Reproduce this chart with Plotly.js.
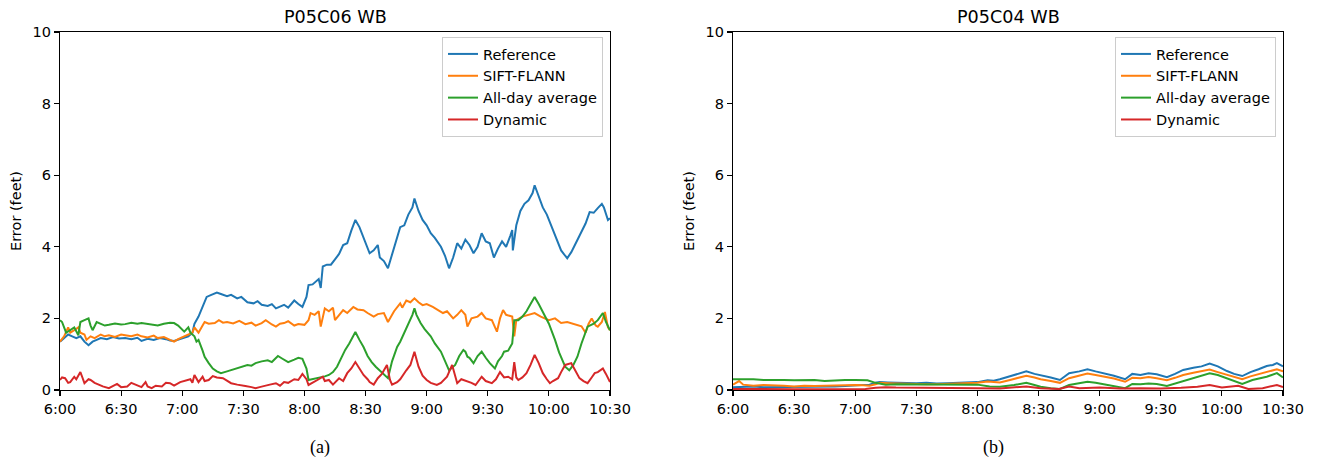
<!DOCTYPE html>
<html>
<head>
<meta charset="utf-8">
<script src="https://cdn.plot.ly/plotly-3.0.1.min.js"></script>
<style>html,body{margin:0;padding:0;background:#fff;}#chart{width:1317px;height:463px;}</style>
</head>
<body>
<div id="chart"></div>
<script>
// x values: minutes after 6:00
const tickVals = [0, 30, 60, 90, 120, 150, 180, 210, 240, 270];
const tickText = ["6:00", "6:30", "7:00", "7:30", "8:00", "8:30", "9:00", "9:30", "10:00", "10:30"];
const seriesNames = ["Reference", "SIFT-FLANN", "All-day average", "Dynamic"];
const panelTitles = ["P05C06 WB", "P05C04 WB"];
const panelCaptions = ["(a)", "(b)"];

// ---- Panel (a): P05C06 WB ----
const aRefT = [0,2,4,6,8,10,12,14,16,18,20,23,26,29,32,35,38,40,43,46,49,52,54,56,59,61,63,65,66,68,70,72,74,77,79,82,84,87,89,92,95,97,99,102,104,106,108,110,112,114,115,117,119,121,122,124,125,127,128,129,131,133,135,137,139,141,143,145,147,149,151,152,154,156,157,159,161,163,165,167,169,171,173,174,176,178,180,182,184,187,189,191,193,195,197,199,201,203,205,207,209,211,213,215,217,219,221,222,222.3,224,226,228,230,232,233,235,237,239,242,244,246,248,249,251,254,256,258,260,262,264,266,267,269,270];
const aRefV = [1.35,1.45,1.55,1.5,1.45,1.5,1.35,1.25,1.35,1.4,1.45,1.42,1.48,1.44,1.45,1.42,1.46,1.37,1.43,1.4,1.45,1.42,1.38,1.37,1.42,1.45,1.5,1.6,1.85,2.05,2.3,2.6,2.65,2.72,2.68,2.62,2.66,2.56,2.6,2.45,2.42,2.48,2.38,2.35,2.4,2.28,2.33,2.38,2.3,2.45,2.5,2.4,2.32,2.6,2.93,2.95,3.0,3.1,2.85,3.45,3.5,3.5,3.65,3.8,4.05,4.1,4.45,4.75,4.55,4.27,4.0,3.82,3.9,4.05,3.7,3.6,3.4,3.8,4.2,4.55,4.6,4.9,5.1,5.35,5.0,4.75,4.6,4.38,4.25,4.0,3.75,3.4,3.7,4.1,3.95,4.2,4.05,3.82,4.0,4.38,4.15,4.1,3.7,3.95,4.15,4.0,4.3,4.47,3.9,4.6,5.0,5.2,5.3,5.5,5.72,5.4,5.1,4.9,4.47,4.2,3.9,3.75,3.68,3.85,4.2,4.4,4.65,4.97,4.95,5.08,5.2,5.1,4.75,4.8];

const aSiftT = [0,2,4,5,7,9,10,12,13,15,17,20,22,24,27,30,32,35,38,40,43,46,48,51,54,56,58,61,63,65,66,68,70,71,73,76,78,80,82,85,88,91,94,96,99,101,104,106,108,110,112,115,117,120,122,123,125,127,128,130,132,134,135,137,139,141,144,146,149,151,154,156,159,161,162,164,167,168,170,172,174,176,178,180,183,185,188,190,193,195,197,199,200,202,205,207,209,212,214.5,216,217.5,219,222,223,224,227,230,233,236,240,243,246,249,253,256,258,259.5,261,263,264,266,267.5,269,270];
const aSiftV = [1.35,1.5,1.75,1.6,1.67,1.75,1.6,1.55,1.4,1.5,1.45,1.55,1.5,1.53,1.48,1.55,1.53,1.5,1.55,1.5,1.47,1.52,1.45,1.48,1.4,1.35,1.42,1.5,1.55,1.6,1.75,1.6,1.8,1.9,1.85,1.87,1.95,1.88,1.9,1.86,1.93,1.84,1.88,1.8,1.87,1.95,1.83,1.77,1.85,1.87,1.92,1.8,1.84,1.82,1.95,2.15,2.1,2.2,1.77,2.28,2.2,2.3,1.95,2.1,2.23,2.15,2.32,2.25,2.23,2.15,2.05,2.12,2.15,1.9,2.0,2.2,2.42,2.3,2.5,2.45,2.56,2.45,2.37,2.4,2.32,2.25,2.15,2.2,2.0,2.1,2.23,2.1,1.77,2.0,2.05,2.15,2.0,1.95,1.63,2.0,2.23,2.1,2.05,1.5,1.95,2.05,2.1,2.15,2.05,1.95,2.0,1.87,1.9,1.82,1.78,1.6,1.85,2.0,1.8,1.77,1.9,2.18,1.75,1.67];

const aAvgT = [0,1,3,5,7,9,10,12,14,15,16,18,20,22,24,27,30,32,35,38,40,43,46,48,51,54,56,58,61,63,64,66,67,68,70,71,73,75,77,79,82,85,87,89,92,94,96,99,102,104,107,109,112,115,117,119,121,122,124,127,130,132,134,136,138,140,142,145,147,149,151,153,155,157,159,161,163,165.5,167,169,171,173,174,175,177,179,182,184,187,189,191,192,194,196,198,199,200,201,203,205,207,209,211,213.5,215,217,218,220,222,223,225,227,229,231,233,235,238,240,243,245,248,250,252,254,256,259,262,264,266.5,268,270];
const aAvgV = [1.95,1.9,1.6,1.67,1.75,1.53,1.9,1.95,2.0,1.8,1.67,1.9,1.85,1.8,1.82,1.86,1.83,1.84,1.88,1.85,1.87,1.85,1.82,1.8,1.85,1.88,1.87,1.8,1.63,1.75,1.6,1.5,1.35,1.4,1.1,0.93,0.75,0.6,0.52,0.47,0.52,0.58,0.62,0.65,0.7,0.68,0.75,0.8,0.83,0.78,0.95,0.88,0.78,0.85,0.9,0.87,0.6,0.28,0.3,0.33,0.38,0.42,0.5,0.65,0.9,1.12,1.3,1.62,1.4,1.2,0.95,0.78,0.65,0.55,0.45,0.33,0.8,1.2,1.35,1.6,1.85,2.1,2.28,2.1,1.87,1.7,1.5,1.3,1.07,0.8,0.55,0.6,0.7,0.95,1.12,1.07,0.93,0.9,0.75,0.95,1.07,0.9,0.75,0.6,0.8,0.95,1.07,1.1,1.3,1.95,1.95,2.05,2.2,2.4,2.6,2.4,2.05,1.85,1.4,1.05,0.65,0.55,0.7,0.93,1.3,1.77,1.85,1.95,2.15,1.9,1.67];

const aDynT = [0,1,2.5,4,5,7,8,10,11,12,14,15,17,19,21,24,26,28,30,33,35,38,40,42,43,45,47,50,52,54,56,59,61,64,65,66,68,70,71,73,75,77,80,82,84,87,89,91,94,96,98,101,103,106,108,110,112,115,117,119,121,122,124,125,127,129,130,132,134,137,139,141,143,145,147,149,151,152,154,156,158,160.5,162,163,165.5,167,170,172,174,176,178,180,182,185,187,190,192.5,195,197,200,202,204,207,209,212,214,216,218,220,222,223,224,225,227,229,231,233,235,237,239,240.5,242,244.5,246,248,251,253,255,257,259,261,262.5,264,266.5,268,270];
const aDynV = [0.28,0.35,0.33,0.2,0.22,0.37,0.3,0.5,0.35,0.19,0.3,0.28,0.2,0.14,0.1,0.05,0.1,0.17,0.08,0.1,0.2,0.14,0.08,0.22,0.1,0.05,0.12,0.1,0.2,0.19,0.12,0.22,0.25,0.3,0.2,0.42,0.22,0.37,0.25,0.28,0.39,0.35,0.33,0.25,0.19,0.15,0.12,0.11,0.08,0.05,0.08,0.11,0.15,0.19,0.12,0.22,0.2,0.3,0.28,0.45,0.3,0.14,0.2,0.22,0.3,0.37,0.25,0.28,0.15,0.33,0.25,0.47,0.6,0.78,0.6,0.42,0.3,0.22,0.15,0.33,0.45,0.7,0.28,0.15,0.22,0.3,0.55,0.7,1.07,0.65,0.4,0.28,0.2,0.14,0.2,0.37,0.7,0.19,0.3,0.25,0.2,0.14,0.37,0.25,0.19,0.3,0.5,0.35,0.37,0.3,0.78,0.35,0.28,0.35,0.47,0.7,0.98,0.75,0.47,0.3,0.19,0.25,0.33,0.5,0.7,0.75,0.55,0.33,0.25,0.19,0.35,0.47,0.5,0.6,0.45,0.22];

// ---- Panel (b): P05C04 WB ----
const bRefT = [0,5,10,15,20,25,30,35,40,45,50,55,60,64,67,70,72,76,80,85,90,95,100,105,110,115,120,125,128,131,136,140,144,148,151,156,160.5,163,165,170,174,178,182,187,192.5,196,200,204,208,213,217,221,226,230,234,238,242.5,246,250,254,258,262,265,267,270];
const bRefV = [0.08,0.1,0.1,0.08,0.08,0.1,0.1,0.09,0.09,0.1,0.1,0.11,0.12,0.13,0.15,0.2,0.22,0.21,0.2,0.2,0.19,0.2,0.18,0.19,0.2,0.2,0.22,0.27,0.26,0.3,0.38,0.44,0.52,0.45,0.42,0.35,0.28,0.4,0.47,0.52,0.58,0.52,0.47,0.4,0.3,0.45,0.42,0.47,0.44,0.36,0.45,0.56,0.62,0.66,0.74,0.66,0.53,0.45,0.39,0.5,0.58,0.67,0.7,0.75,0.66];
const bSiftT = [0,3,5,10,15,20,25,30,35,40,45,50,55,60,64,67,70,72,76,80,85,90,95,100,105,110,115,120,125,128,131,136,140,144,148,151,156,160.5,165,170,174,178,182,187,192.5,196,200,204,208,213,217,221,226,230,234,238,242.5,246,250,254,258,262,265,267,270];
const bSiftV = [0.15,0.25,0.15,0.12,0.14,0.14,0.12,0.1,0.12,0.11,0.12,0.12,0.13,0.14,0.13,0.12,0.16,0.2,0.19,0.18,0.17,0.17,0.16,0.16,0.17,0.17,0.18,0.2,0.24,0.22,0.21,0.28,0.34,0.4,0.35,0.3,0.25,0.2,0.33,0.4,0.46,0.42,0.38,0.32,0.23,0.34,0.33,0.36,0.33,0.27,0.34,0.42,0.48,0.52,0.57,0.5,0.42,0.35,0.3,0.38,0.44,0.5,0.55,0.58,0.52];
const bAvgT = [0,5,10,15,20,25,30,35,40,45,50,55,60,66,70,75,80,85,90,95,100,105,110,115,120,126,131,138,144,148,151,156,160.5,165,170,174,178,182,187,192.5,196,200,204,208,213,217,221,228,234,238,242.5,246,248,250,255,262,267,270];
const bAvgV = [0.3,0.31,0.3,0.28,0.29,0.28,0.27,0.28,0.28,0.25,0.27,0.28,0.28,0.27,0.2,0.15,0.16,0.16,0.16,0.15,0.15,0.16,0.16,0.16,0.15,0.1,0.09,0.14,0.2,0.14,0.09,0.05,0.03,0.14,0.18,0.23,0.2,0.16,0.12,0.05,0.17,0.16,0.18,0.17,0.11,0.18,0.26,0.38,0.47,0.42,0.33,0.25,0.2,0.17,0.28,0.37,0.47,0.35];
const bDynT = [0,10,20,30,40,50,60,65,70,75,80,90,100,110,120,131,138,144,151,160,165,170,180,190,200,210,220,228,234,240,248,253,260,267,270];
const bDynV = [0.03,0.02,0.03,0.02,0.02,0.02,0.03,0.03,0.06,0.08,0.07,0.07,0.06,0.06,0.05,0.04,0.07,0.1,0.05,0.03,0.1,0.05,0.07,0.04,0.05,0.04,0.06,0.09,0.14,0.07,0.12,0.03,0.05,0.14,0.08];

const colors = ["#1f77b4", "#ff7f0e", "#2ca02c", "#d62728"];
const panels = [
  {x: [aRefT, aSiftT, aAvgT, aDynT], y: [aRefV, aSiftV, aAvgV, aDynV], xa: "x", ya: "y", legend: "legend"},
  {x: [bRefT, bSiftT, bAvgT, bDynT], y: [bRefV, bSiftV, bAvgV, bDynV], xa: "x2", ya: "y2", legend: "legend2"}
];

const traces = [];
panels.forEach(p => {
  for (let i = 0; i < 4; i++) {
    traces.push({
      type: "scatter", mode: "lines",
      x: p.x[i], y: p.y[i], name: seriesNames[i],
      xaxis: p.xa, yaxis: p.ya, legend: p.legend,
      line: {color: colors[i], width: 2}
    });
  }
});

const W = 1317, H = 463;
const fontFam = "DejaVu Sans, sans-serif";
const axBase = {
  showline: true, linecolor: "#000", linewidth: 1.1, mirror: true,
  ticks: "outside", ticklen: 5, tickwidth: 1.1, tickcolor: "#000",
  showgrid: false, zeroline: false,
  tickfont: {family: fontFam, size: 14.5, color: "#000"}
};
const xax = Object.assign({}, axBase, {range: [0, 270], tickmode: "array", tickvals: tickVals, ticktext: tickText});
const yax = Object.assign({}, axBase, {range: [0, 10], tickmode: "array", tickvals: [0, 2, 4, 6, 8, 10]});
const yDom = [(H - 390) / H, (H - 32) / H];

const legBase = {
  bgcolor: "rgba(255,255,255,0.8)", bordercolor: "#cccccc", borderwidth: 1,
  font: {family: fontFam, size: 14.5, color: "#000"},
  xanchor: "right", yanchor: "top", y: (H - 37) / H, xref: "paper", yref: "paper"
};

const layout = {
  width: W, height: H,
  margin: {l: 0, r: 0, t: 0, b: 0},
  paper_bgcolor: "#fff", plot_bgcolor: "#fff",
  xaxis: Object.assign({}, xax, {domain: [60 / W, 610 / W], anchor: "y"}),
  yaxis: Object.assign({}, yax, {domain: yDom, anchor: "x"}),
  xaxis2: Object.assign({}, xax, {domain: [733 / W, 1283 / W], anchor: "y2"}),
  yaxis2: Object.assign({}, yax, {domain: yDom, anchor: "x2"}),
  legend: Object.assign({}, legBase, {x: 603 / W}),
  legend2: Object.assign({}, legBase, {x: 1276 / W}),
  annotations: [
    {text: panelTitles[0], x: 335 / W, y: (H - 17) / H, xref: "paper", yref: "paper", showarrow: false, xanchor: "center", yanchor: "middle", font: {family: fontFam, size: 17.6, color: "#000"}},
    {text: panelTitles[1], x: 1008 / W, y: (H - 17) / H, xref: "paper", yref: "paper", showarrow: false, xanchor: "center", yanchor: "middle", font: {family: fontFam, size: 17.6, color: "#000"}},
    {text: "Error (feet)", x: 16 / W, y: (H - 211) / H, xref: "paper", yref: "paper", showarrow: false, textangle: -90, xanchor: "center", yanchor: "middle", font: {family: fontFam, size: 14.5, color: "#000"}},
    {text: "Error (feet)", x: 689 / W, y: (H - 211) / H, xref: "paper", yref: "paper", showarrow: false, textangle: -90, xanchor: "center", yanchor: "middle", font: {family: fontFam, size: 14.5, color: "#000"}},
    {text: panelCaptions[0], x: 320 / W, y: (H - 447) / H, xref: "paper", yref: "paper", showarrow: false, xanchor: "center", yanchor: "middle", font: {family: "Liberation Serif, Times New Roman, serif", size: 18, color: "#000"}},
    {text: panelCaptions[1], x: 993 / W, y: (H - 447) / H, xref: "paper", yref: "paper", showarrow: false, xanchor: "center", yanchor: "middle", font: {family: "Liberation Serif, Times New Roman, serif", size: 18, color: "#000"}}
  ]
};

Plotly.newPlot("chart", traces, layout, {staticPlot: true, displayModeBar: false});
</script>
</body>
</html>
